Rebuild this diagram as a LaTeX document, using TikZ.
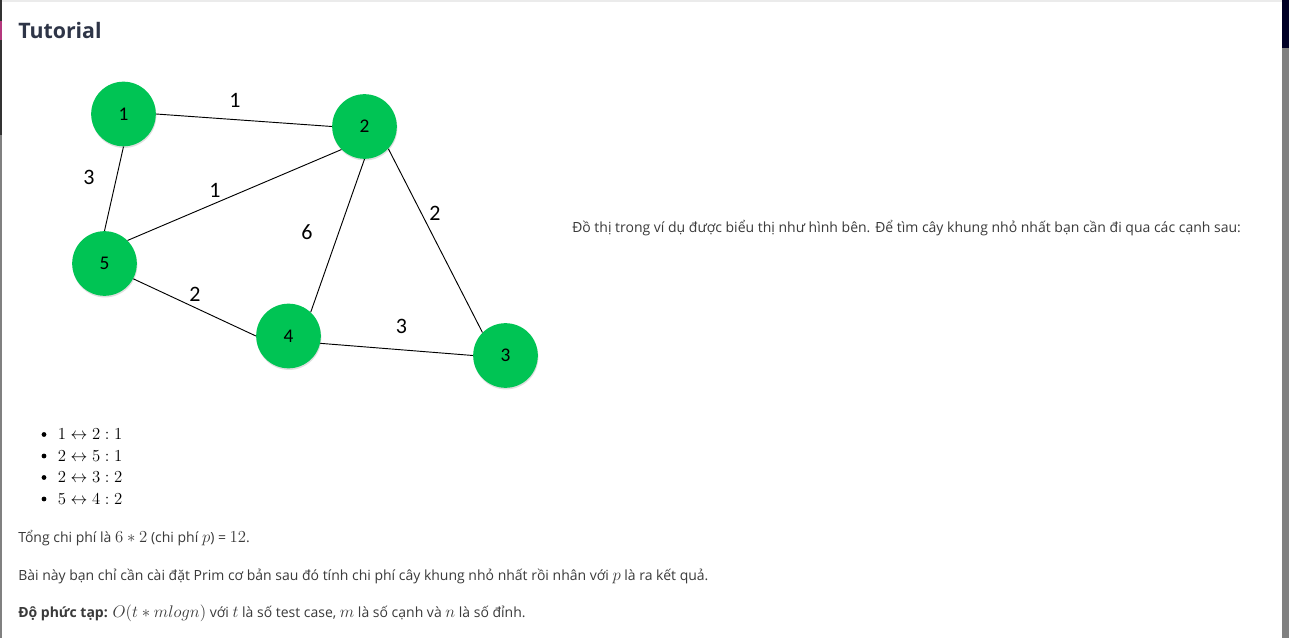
\documentclass[tikz,border=0pt]{standalone}
\usepackage{fix-cm}
\usepackage{fontspec}
\setmainfont{Open Sans}
\newfontfamily\graphfont{Carlito}
\usetikzlibrary{shadows}
\definecolor{vgreen}{HTML}{00C454}
\definecolor{titlecol}{HTML}{2E3547}
\definecolor{bodycol}{HTML}{3A3A3A}
\newcommand{\km}[1]{{\fontsize{12.6}{15}\selectfont$#1$}}
\begin{document}
\begin{tikzpicture}[
    x=0.75pt, y=-0.75pt,
    vertex/.style={circle, fill=vgreen, minimum size=48.5pt, inner sep=0pt, font=\graphfont\fontsize{14.5}{16}\selectfont,
        drop shadow={shadow xshift=0.4pt, shadow yshift=-1.2pt, opacity=0.25}},
    wt/.style={font=\graphfont\fontsize{16.5}{18}\selectfont, inner sep=0pt},
    link/.style={draw, line width=0.7pt},
    para/.style={anchor=base west, inner sep=0pt, text=bodycol, font=\fontsize{10.5}{13}\selectfont},
    item/.style={anchor=base west, inner sep=0pt, text=black},
    dot/.style={circle, fill=black, minimum size=3.6pt, inner sep=0pt}
]
    \useasboundingbox (0,0) rectangle (1289,638);
    % page frame
    \fill[white] (0,0) rectangle (1289,638);
    \fill[black!80] (0,0) rectangle (2,135);
    \fill[gray] (0,135) rectangle (2,638);
    \fill[magenta!70!black] (0,21) rectangle (2,40);
    \fill[black!8] (2,0) rectangle (1282,2);
    \fill[gray] (1282,0) rectangle (1289,638);
    \fill[black!85!blue] (1282,0) rectangle (1289,48);

    \node[anchor=base west, inner sep=0pt, text=titlecol, font=\bfseries\fontsize{16}{18}\selectfont] (title) at (18,39) {Tutorial};

    % graph
    \node[vertex] (v1) at (123.5,114) {1};
    \node[vertex] (v2) at (364.5,126.5) {2};
    \node[vertex] (v5) at (104.5,263.5) {5};
    \node[vertex] (v4) at (288.5,336) {4};
    \node[vertex] (v3) at (505.5,355.5) {3};

    \draw[link] (v1.east) -- (v2.west);
    \draw[link] (v1.south) -- (v5.north);
    \draw[link] (v5.45) -- (v2.225);
    \draw[link] (v2.south) -- (v4.47);
    \draw[link] (v2.-43) -- (v3.135);
    \draw[link] (v5.-28) -- (v4.west);
    \draw[link] (v4.-13) -- (v3.west);

    \node[wt] (w12) at (235,100.5) {1};
    \node[wt] (w15) at (89,177) {3};
    \node[wt] (w25) at (215,190) {1};
    \node[wt] (w24) at (307,232) {6};
    \node[wt] (w23) at (435,213) {2};
    \node[wt] (w54) at (195,294) {2};
    \node[wt] (w43) at (401.5,326.5) {3};

    % text
    \node[para] (intro) at (572,233) {Đồ thị trong ví dụ được biểu thị như hình bên. Để tìm cây khung nhỏ nhất bạn cần đi qua các cạnh sau:};

    \node[dot] (b1) at (44,434.5) {};
    \node[item] (e1) at (57.5,439.5) {\km{1\leftrightarrow 2:1}};
    \node[dot] (b2) at (44,456) {};
    \node[item] (e2) at (57.5,461) {\km{2\leftrightarrow 5:1}};
    \node[dot] (b3) at (44,477.5) {};
    \node[item] (e3) at (57.5,482.5) {\km{2\leftrightarrow 3:2}};
    \node[dot] (b4) at (44,499) {};
    \node[item] (e4) at (57.5,504) {\km{5\leftrightarrow 4:2}};

    \node[para] (total) at (18,542) {Tổng chi phí là \km{6*2} (chi phí \km{p}) = \km{12}.};
    \node[para] (idea) at (18,580) {Bài này bạn chỉ cần cài đặt Prim cơ bản sau đó tính chi phí cây khung nhỏ nhất rồi nhân với \km{p} là ra kết quả.};
    \node[para] (cost) at (18,617) {\textbf{Độ phức tạp:} \km{O(t*mlogn)} với \km{t} là số test case, \km{m} là số cạnh và \km{n} là số đỉnh.};
\end{tikzpicture}
\end{document}
